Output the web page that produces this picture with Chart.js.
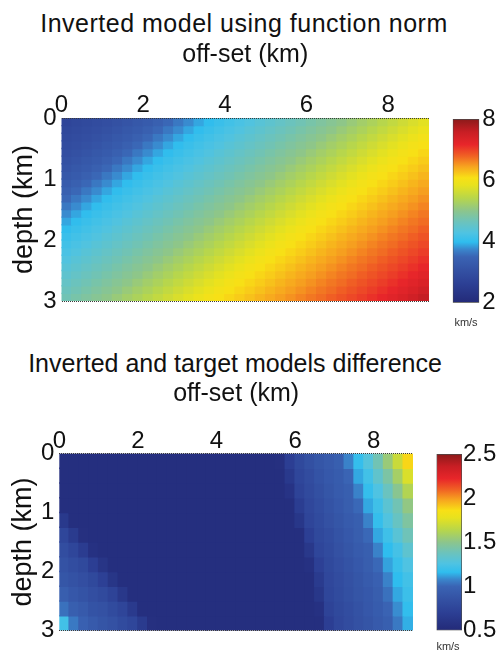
<!DOCTYPE html>
<html><head><meta charset="utf-8">
<script src="https://cdn.jsdelivr.net/npm/chart.js@4.4.1/dist/chart.umd.min.js"></script>
<style>
html,body{margin:0;padding:0;background:#fff;}
body{width:500px;height:651px;overflow:hidden;position:relative;font-family:"Liberation Sans",Arial,sans-serif;}
canvas{position:absolute;}
.t{position:absolute;left:0;text-align:center;font-size:25px;line-height:30px;color:#111;white-space:nowrap;}
.u{position:absolute;width:40px;text-align:center;font-size:11px;line-height:12px;color:#333;}
</style></head><body>
<div class="t" style="top:8px;width:488px;letter-spacing:0.5px">Inverted model using function norm</div>
<div class="t" style="top:348px;width:470px">Inverted and target models difference</div>
<canvas id="m1" width="440" height="300" style="left:0;top:30px"></canvas>
<canvas id="c1" width="60" height="230" style="left:440px;top:100px"></canvas>
<div class="u" style="left:446px;top:316px">km/s</div>
<canvas id="m2" width="430" height="281" style="left:0;top:370px"></canvas>
<canvas id="c2" width="70" height="221" style="left:430px;top:430px"></canvas>
<div class="u" style="left:428px;top:640px">km/s</div>
<script>
// ---- grid cell centres / edges (km)
const offsetCenters = [0.125,0.375,0.625,0.875,1.125,1.375,1.625,1.875,2.125,2.375,2.625,2.875,3.125,3.375,3.625,3.875,4.125,4.375,4.625,4.875,5.125,5.375,5.625,5.875,6.125,6.375,6.625,6.875,7.125,7.375,7.625,7.875,8.125,8.375,8.625,8.875];
const depthEdges1 = [0,0.125,0.25,0.375,0.5,0.625,0.75,0.875,1,1.125,1.25,1.375,1.5,1.625,1.75,1.875,2,2.125,2.25,2.375,2.5,2.625,2.75,2.875,3];
const depthEdges2 = [0,0.25,0.5,0.75,1,1.25,1.5,1.75,2,2.25,2.5,2.75,3];

// ---- inverted velocity model (km/s): rows = depth, columns = offset
const velocityRows = [
  [2.76,2.82,2.87,2.93,2.99,3.05,3.13,3.21,3.28,3.40,3.52,3.64,3.76,3.88,4.00,4.08,4.16,4.23,4.31,4.39,4.47,4.55,4.63,4.70,4.78,4.86,4.94,5.02,5.12,5.22,5.31,5.41,5.51,5.61,5.71,5.80],
  [2.82,2.87,2.93,2.99,3.05,3.13,3.21,3.28,3.40,3.52,3.64,3.76,3.88,4.00,4.08,4.16,4.23,4.31,4.39,4.47,4.55,4.63,4.70,4.78,4.86,4.94,5.02,5.12,5.22,5.31,5.41,5.51,5.61,5.71,5.80,5.90],
  [2.87,2.93,2.99,3.05,3.13,3.21,3.28,3.40,3.52,3.64,3.76,3.88,4.00,4.08,4.16,4.23,4.31,4.39,4.47,4.55,4.63,4.70,4.78,4.86,4.94,5.02,5.12,5.22,5.31,5.41,5.51,5.61,5.71,5.80,5.90,6.00],
  [2.93,2.99,3.05,3.13,3.21,3.28,3.40,3.52,3.64,3.76,3.88,4.00,4.08,4.16,4.23,4.31,4.39,4.47,4.55,4.63,4.70,4.78,4.86,4.94,5.02,5.12,5.22,5.31,5.41,5.51,5.61,5.71,5.80,5.90,6.00,6.07],
  [2.99,3.05,3.13,3.21,3.28,3.40,3.52,3.64,3.76,3.88,4.00,4.08,4.16,4.23,4.31,4.39,4.47,4.55,4.63,4.70,4.78,4.86,4.94,5.02,5.12,5.22,5.31,5.41,5.51,5.61,5.71,5.80,5.90,6.00,6.07,6.14],
  [3.05,3.13,3.21,3.28,3.40,3.52,3.64,3.76,3.88,4.00,4.08,4.16,4.23,4.31,4.39,4.47,4.55,4.63,4.70,4.78,4.86,4.94,5.02,5.12,5.22,5.31,5.41,5.51,5.61,5.71,5.80,5.90,6.00,6.07,6.14,6.20],
  [3.13,3.21,3.28,3.40,3.52,3.64,3.76,3.88,4.00,4.08,4.16,4.23,4.31,4.39,4.47,4.55,4.63,4.70,4.78,4.86,4.94,5.02,5.12,5.22,5.31,5.41,5.51,5.61,5.71,5.80,5.90,6.00,6.07,6.14,6.20,6.27],
  [3.21,3.28,3.40,3.52,3.64,3.76,3.88,4.00,4.08,4.16,4.23,4.31,4.39,4.47,4.55,4.63,4.70,4.78,4.86,4.94,5.02,5.12,5.22,5.31,5.41,5.51,5.61,5.71,5.80,5.90,6.00,6.07,6.14,6.20,6.27,6.34],
  [3.28,3.40,3.52,3.64,3.76,3.88,4.00,4.08,4.16,4.23,4.31,4.39,4.47,4.55,4.63,4.70,4.78,4.86,4.94,5.02,5.12,5.22,5.31,5.41,5.51,5.61,5.71,5.80,5.90,6.00,6.07,6.14,6.20,6.27,6.34,6.41],
  [3.40,3.52,3.64,3.76,3.88,4.00,4.08,4.16,4.23,4.31,4.39,4.47,4.55,4.63,4.70,4.78,4.86,4.94,5.02,5.12,5.22,5.31,5.41,5.51,5.61,5.71,5.80,5.90,6.00,6.07,6.14,6.20,6.27,6.34,6.41,6.47],
  [3.52,3.64,3.76,3.88,4.00,4.08,4.16,4.23,4.31,4.39,4.47,4.55,4.63,4.70,4.78,4.86,4.94,5.02,5.12,5.22,5.31,5.41,5.51,5.61,5.71,5.80,5.90,6.00,6.07,6.14,6.20,6.27,6.34,6.41,6.47,6.54],
  [3.64,3.76,3.88,4.00,4.08,4.16,4.23,4.31,4.39,4.47,4.55,4.63,4.70,4.78,4.86,4.94,5.02,5.12,5.22,5.31,5.41,5.51,5.61,5.71,5.80,5.90,6.00,6.07,6.14,6.20,6.27,6.34,6.41,6.47,6.54,6.61],
  [3.76,3.88,4.00,4.08,4.16,4.23,4.31,4.39,4.47,4.55,4.63,4.70,4.78,4.86,4.94,5.02,5.12,5.22,5.31,5.41,5.51,5.61,5.71,5.80,5.90,6.00,6.07,6.14,6.20,6.27,6.34,6.41,6.47,6.54,6.61,6.68],
  [3.88,4.00,4.08,4.16,4.23,4.31,4.39,4.47,4.55,4.63,4.70,4.78,4.86,4.94,5.02,5.12,5.22,5.31,5.41,5.51,5.61,5.71,5.80,5.90,6.00,6.07,6.14,6.20,6.27,6.34,6.41,6.47,6.54,6.61,6.68,6.74],
  [4.00,4.08,4.16,4.23,4.31,4.39,4.47,4.55,4.63,4.70,4.78,4.86,4.94,5.02,5.12,5.22,5.31,5.41,5.51,5.61,5.71,5.80,5.90,6.00,6.07,6.14,6.20,6.27,6.34,6.41,6.47,6.54,6.61,6.68,6.74,6.81],
  [4.08,4.16,4.23,4.31,4.39,4.47,4.55,4.63,4.70,4.78,4.86,4.94,5.02,5.12,5.22,5.31,5.41,5.51,5.61,5.71,5.80,5.90,6.00,6.07,6.14,6.20,6.27,6.34,6.41,6.47,6.54,6.61,6.68,6.74,6.81,6.88],
  [4.16,4.23,4.31,4.39,4.47,4.55,4.63,4.70,4.78,4.86,4.94,5.02,5.12,5.22,5.31,5.41,5.51,5.61,5.71,5.80,5.90,6.00,6.07,6.14,6.20,6.27,6.34,6.41,6.47,6.54,6.61,6.68,6.74,6.81,6.88,6.95],
  [4.23,4.31,4.39,4.47,4.55,4.63,4.70,4.78,4.86,4.94,5.02,5.12,5.22,5.31,5.41,5.51,5.61,5.71,5.80,5.90,6.00,6.07,6.14,6.20,6.27,6.34,6.41,6.47,6.54,6.61,6.68,6.74,6.81,6.88,6.95,7.02],
  [4.31,4.39,4.47,4.55,4.63,4.70,4.78,4.86,4.94,5.02,5.12,5.22,5.31,5.41,5.51,5.61,5.71,5.80,5.90,6.00,6.07,6.14,6.20,6.27,6.34,6.41,6.47,6.54,6.61,6.68,6.74,6.81,6.88,6.95,7.02,7.09],
  [4.39,4.47,4.55,4.63,4.70,4.78,4.86,4.94,5.02,5.12,5.22,5.31,5.41,5.51,5.61,5.71,5.80,5.90,6.00,6.07,6.14,6.20,6.27,6.34,6.41,6.47,6.54,6.61,6.68,6.74,6.81,6.88,6.95,7.02,7.09,7.17],
  [4.47,4.55,4.63,4.70,4.78,4.86,4.94,5.02,5.12,5.22,5.31,5.41,5.51,5.61,5.71,5.80,5.90,6.00,6.07,6.14,6.20,6.27,6.34,6.41,6.47,6.54,6.61,6.68,6.74,6.81,6.88,6.95,7.02,7.09,7.17,7.26],
  [4.55,4.63,4.70,4.78,4.86,4.94,5.02,5.12,5.22,5.31,5.41,5.51,5.61,5.71,5.80,5.90,6.00,6.07,6.14,6.20,6.27,6.34,6.41,6.47,6.54,6.61,6.68,6.74,6.81,6.88,6.95,7.02,7.09,7.17,7.26,7.36],
  [4.63,4.70,4.78,4.86,4.94,5.02,5.12,5.22,5.31,5.41,5.51,5.61,5.71,5.80,5.90,6.00,6.07,6.14,6.20,6.27,6.34,6.41,6.47,6.54,6.61,6.68,6.74,6.81,6.88,6.95,7.02,7.09,7.17,7.26,7.36,7.47],
  [4.70,4.78,4.86,4.94,5.02,5.12,5.22,5.31,5.41,5.51,5.61,5.71,5.80,5.90,6.00,6.07,6.14,6.20,6.27,6.34,6.41,6.47,6.54,6.61,6.68,6.74,6.81,6.88,6.95,7.02,7.09,7.17,7.26,7.36,7.47,7.60]
];

// ---- inverted minus target model (km/s): rows = depth, columns = offset
const differenceRows = [
  [0.55,0.55,0.55,0.55,0.55,0.55,0.55,0.55,0.55,0.55,0.55,0.55, 0.55,0.55,0.55,0.55,0.55,0.55,0.55,0.55,0.55, 0.55,0.56,0.69,0.78,0.84,0.89,0.92,0.96,1.07,1.18,1.28,1.40,1.54,1.69,1.88],
  [0.55,0.55,0.55,0.55,0.55,0.55,0.55,0.55,0.55,0.55,0.55,0.55, 0.55,0.55,0.55,0.55,0.55,0.55,0.55,0.55,0.55, 0.55,0.55,0.64,0.76,0.81,0.87,0.91,0.94,1.00,1.13,1.22,1.33,1.44,1.58,1.74],
  [0.55,0.55,0.55,0.55,0.55,0.55,0.55,0.55,0.55,0.55,0.55,0.55, 0.55,0.55,0.55,0.55,0.55,0.55,0.55,0.55,0.55, 0.55,0.55,0.59,0.73,0.79,0.84,0.89,0.93,0.96,1.07,1.18,1.26,1.37,1.49,1.62],
  [0.55,0.55,0.55,0.55,0.55,0.55,0.55,0.55,0.55,0.55,0.55,0.55, 0.55,0.55,0.55,0.55,0.55,0.55,0.55,0.55,0.55, 0.55,0.55,0.55,0.68,0.77,0.82,0.87,0.91,0.95,1.01,1.13,1.21,1.31,1.40,1.52],
  [0.64,0.55,0.55,0.55,0.55,0.55,0.55,0.55,0.55,0.55,0.55,0.55, 0.55,0.55,0.55,0.55,0.55,0.55,0.55,0.55,0.55, 0.55,0.55,0.55,0.62,0.75,0.80,0.85,0.89,0.93,0.96,1.07,1.18,1.27,1.36,1.45],
  [0.76,0.66,0.56,0.55,0.55,0.55,0.55,0.55,0.55,0.55,0.55,0.55, 0.55,0.55,0.55,0.55,0.55,0.55,0.55,0.55,0.55, 0.55,0.55,0.55,0.55,0.70,0.78,0.82,0.87,0.91,0.95,1.01,1.13,1.21,1.30,1.39],
  [0.82,0.76,0.67,0.57,0.55,0.55,0.55,0.55,0.55,0.55,0.55,0.55, 0.55,0.55,0.55,0.55,0.55,0.55,0.55,0.55,0.55, 0.55,0.55,0.55,0.55,0.63,0.76,0.80,0.85,0.89,0.93,0.96,1.07,1.16,1.23,1.32],
  [0.86,0.82,0.78,0.69,0.60,0.55,0.55,0.55,0.55,0.55,0.55,0.55, 0.55,0.55,0.55,0.55,0.55,0.55,0.55,0.55,0.55, 0.55,0.55,0.55,0.55,0.57,0.71,0.78,0.83,0.87,0.91,0.95,1.01,1.12,1.19,1.26],
  [0.89,0.86,0.83,0.78,0.71,0.61,0.55,0.55,0.55,0.55,0.55,0.55, 0.55,0.55,0.55,0.55,0.55,0.55,0.55,0.55,0.55, 0.55,0.55,0.55,0.55,0.55,0.66,0.77,0.81,0.85,0.89,0.93,0.97,1.07,1.16,1.22],
  [0.95,0.90,0.87,0.83,0.79,0.73,0.63,0.55,0.55,0.55,0.55,0.55, 0.55,0.55,0.55,0.55,0.55,0.55,0.55,0.55,0.55, 0.55,0.55,0.55,0.55,0.55,0.62,0.76,0.80,0.84,0.88,0.91,0.95,1.03,1.13,1.20],
  [1.03,0.96,0.92,0.87,0.85,0.80,0.75,0.65,0.55,0.55,0.55,0.55, 0.55,0.55,0.55,0.55,0.55,0.55,0.55,0.55,0.55, 0.55,0.55,0.55,0.55,0.55,0.57,0.73,0.78,0.82,0.86,0.90,0.94,0.99,1.09,1.17],
  [1.22,1.05,0.97,0.92,0.88,0.85,0.80,0.76,0.66,0.56,0.55,0.55, 0.55,0.55,0.55,0.55,0.55,0.55,0.55,0.55,0.55, 0.55,0.55,0.55,0.55,0.55,0.55,0.69,0.77,0.81,0.85,0.88,0.92,0.96,1.05,1.14]
];
const velocityRange = [2, 8];
const differenceRange = [0.5, 2.5];
const offsetTicks = [0, 2, 4, 6, 8];
const depthTicks = [0, 1, 2, 3];

// ---- colour map (jet-like, as in the colour bars)
const cmapStops = [[0,'#232a78'],[0.10,'#2c3f94'],[0.18,'#3452a4'],[0.25,'#3a64b4'],[0.29,'#3a86cc'],[0.33,'#2fbdee'],[0.38,'#4fc3e2'],[0.44,'#6cc3bc'],[0.50,'#8cc58c'],[0.57,'#b8d64a'],[0.64,'#e8e21e'],[0.68,'#f8e016'],[0.74,'#f7a51f'],[0.80,'#f06024'],[0.86,'#e8262a'],[0.93,'#c81e24'],[1,'#8b1a1a']];
function hex(h){return [parseInt(h.slice(1,3),16),parseInt(h.slice(3,5),16),parseInt(h.slice(5,7),16)];}
function colorFor(v, lo, hi) {
  let t = (v - lo) / (hi - lo); t = Math.max(0, Math.min(1, t));
  for (let i = 1; i < cmapStops.length; i++) {
    if (t <= cmapStops[i][0]) {
      const a = cmapStops[i-1], b = cmapStops[i];
      const f = (t - a[0]) / (b[0] - a[0]);
      const ca = hex(a[1]), cb = hex(b[1]);
      return 'rgb(' + ca.map((c, k) => Math.round(c + (cb[k] - c) * f)).join(',') + ')';
    }
  }
  return cmapStops[cmapStops.length-1][1];
}

const FAM = '"Liberation Sans", Arial, sans-serif';
const TXT = '#111';

function makeHeat(id, xs, edges, rows, range, L) {
  const datasets = rows.map((row, r) => ({
    data: xs.map(x => ({ x: x, y: [edges[r], edges[r + 1]] })),
    backgroundColor: row.map(v => colorFor(v, range[0], range[1])),
    borderWidth: 0, grouped: false, barPercentage: 1, categoryPercentage: 1, inflateAmount: 0.7
  }));
  return new Chart(document.getElementById(id), {
    type: 'bar',
    data: { datasets },
    options: {
      responsive: false, animation: false, devicePixelRatio: 1, events: [],
      layout: { padding: { left: 0, top: 0, right: L.padRight, bottom: L.padBottom } },
      plugins: { legend: { display: false }, tooltip: { enabled: false } },
      scales: {
        x: {
          type: 'linear', position: 'top', min: 0, max: 9, offset: false,
          grid: { display: false, drawTicks: false }, border: { display: false },
          afterBuildTicks: s => { s.ticks = offsetTicks.map(v => ({ value: v })); },
          ticks: { padding: L.xTickPad, maxRotation: 0, autoSkip: false, color: TXT,
                   font: { family: FAM, size: 24, lineHeight: 1 }, callback: v => String(v) },
          title: { display: true, text: 'off-set (km)', color: TXT,
                   font: { family: FAM, size: 25, lineHeight: 1.2 }, padding: { top: L.xTitlePad, bottom: 0 } },
          afterFit: s => { s.height = L.xHeight; }
        },
        y: {
          type: 'linear', position: 'left', min: 0, max: 3, reverse: true,
          afterBuildTicks: s => { s.ticks = depthTicks.map(v => ({ value: v })); },
          grid: { display: true, drawTicks: false, z: 1, lineWidth: 1,
                  color: c => (c.tick && (c.tick.value === 0 || c.tick.value === 3)) ? '#3a3a3a' : 'rgba(0,0,0,0)' },
          border: { display: false, dash: [1, 1] },
          ticks: { padding: 5, autoSkip: false, color: TXT, font: { family: FAM, size: 24 }, callback: v => String(v) },
          title: { display: true, text: 'depth (km)', color: TXT,
                   font: { family: FAM, size: 27, lineHeight: 1.2 }, padding: { top: L.yTitlePad, bottom: 0 } },
          afterFit: s => { s.width = L.yWidth; }
        }
      }
    }
  });
}

function makeBar(id, range, step, L) {
  return new Chart(document.getElementById(id), {
    type: 'bar',
    data: { labels: [''], datasets: [{
      data: [[range[0], range[1]]],
      backgroundColor: ctx => {
        const a = ctx.chart.chartArea; if (!a) return '#888';
        const g = ctx.chart.ctx.createLinearGradient(0, a.bottom, 0, a.top);
        cmapStops.forEach(s => g.addColorStop(s[0], s[1]));
        return g;
      },
      borderColor: '#4a4a4a', borderWidth: 1, borderSkipped: false,
      barPercentage: 1, categoryPercentage: 1
    }]},
    options: {
      responsive: false, animation: false, devicePixelRatio: 1, events: [],
      layout: { padding: { left: L.padLeft, top: L.padTop, right: 0, bottom: L.padBottom } },
      plugins: { legend: { display: false }, tooltip: { enabled: false } },
      scales: {
        x: { display: false },
        y: { position: 'right', min: range[0], max: range[1],
             grid: { display: false, drawTicks: false }, border: { display: false },
             ticks: { stepSize: step, padding: L.tickPad, autoSkip: false, color: TXT,
                      font: { family: FAM, size: 24 }, callback: v => String(v) },
             afterFit: s => { s.width = L.axisWidth; } }
      }
    }
  });
}

makeHeat('m1', offsetCenters, depthEdges1, velocityRows, velocityRange,
  { padRight: 11, padBottom: 29, xHeight: 88, yWidth: 61.5, xTickPad: 1, xTitlePad: 10, yTitlePad: 8 });
makeHeat('m2', offsetCenters, depthEdges2, differenceRows, differenceRange,
  { padRight: 17, padBottom: 20.5, xHeight: 83.5, yWidth: 59.3, xTickPad: 0, xTitlePad: 9, yTitlePad: 7 });
makeBar('c1', velocityRange, 2, { padLeft: 12.7, padTop: 19, padBottom: 27.3, axisWidth: 20.7, tickPad: 3 });
makeBar('c2', differenceRange, 0.5, { padLeft: 6.5, padTop: 24, padBottom: 20.5, axisWidth: 38, tickPad: 1 });
</script>
</body></html>
